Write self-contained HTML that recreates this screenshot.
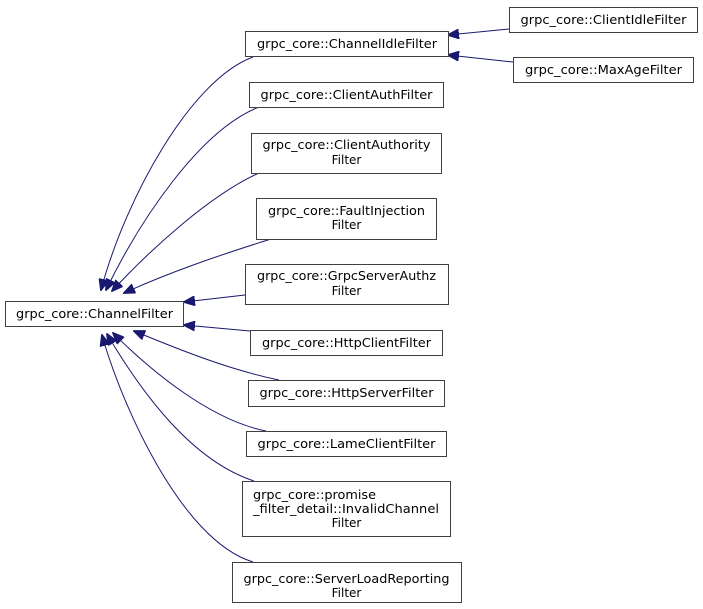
<!DOCTYPE html>
<html><head><meta charset="utf-8"><style>
html,body{margin:0;padding:0;background:#fff;}
svg{display:block;}
text{font-family:"DejaVu Sans","Liberation Sans",sans-serif;font-size:12px;fill:#000;}
</style></head><body>
<svg width="703" height="609" viewBox="0 0 703 609" xmlns="http://www.w3.org/2000/svg">
<defs>
<marker id="a" markerWidth="12" markerHeight="10" refX="11" refY="5" orient="auto" markerUnits="userSpaceOnUse">
<polygon points="0,0 12,5 0,10" fill="#191970" stroke="#191970"/>
</marker>
</defs>
<g fill="none" stroke="#191970" stroke-width="1" marker-end="url(#a)">
<path d="M253,57 C190,80 125,200 101,290"/>
<path d="M259,107 C200,130 140,220 106,290"/>
<path d="M259,173 C210,195 150,250 112,291"/>
<path d="M271,239 C220,255 170,272 124,293"/>
<path d="M245,295 L184,302"/>
<path d="M250,331 L184,325"/>
<path d="M279,380 C230,370 180,350 134,331"/>
<path d="M266,431 C210,420 150,370 113,333"/>
<path d="M254,481 C190,460 140,390 107,334"/>
<path d="M253,562 C180,540 120,400 102,335"/>
<path d="M509,29 L448,35"/>
<path d="M513,62 L448,55"/>
</g>
<g fill="#fff" stroke="#404040" stroke-width="1">
<rect x="5.5" y="301.5" width="178" height="25"/>
<rect x="245.5" y="31.5" width="203" height="25"/>
<rect x="249.5" y="82.5" width="194" height="25"/>
<rect x="251.5" y="133.5" width="190" height="40"/>
<rect x="256.5" y="198.5" width="180" height="41"/>
<rect x="245.5" y="264.5" width="203" height="40"/>
<rect x="250.5" y="330.5" width="192" height="25"/>
<rect x="248.5" y="380.5" width="196" height="26"/>
<rect x="246.5" y="431.5" width="200" height="25"/>
<rect x="242.5" y="481.5" width="208" height="55"/>
<rect x="232.5" y="562.5" width="229" height="40"/>
<rect x="509.5" y="7.5" width="188" height="25"/>
<rect x="513.5" y="57.5" width="180" height="25"/>
</g>
<g text-anchor="middle">
<text x="94.5" y="318" textLength="157" lengthAdjust="spacingAndGlyphs">grpc_core::ChannelFilter</text>
<text x="347" y="48" textLength="180" lengthAdjust="spacingAndGlyphs">grpc_core::ChannelIdleFilter</text>
<text x="346.5" y="99" textLength="172" lengthAdjust="spacingAndGlyphs">grpc_core::ClientAuthFilter</text>
<text x="346.5" y="149" textLength="168" lengthAdjust="spacingAndGlyphs">grpc_core::ClientAuthority</text>
<text x="346.5" y="164">Filter</text>
<text x="346.5" y="215" textLength="157" lengthAdjust="spacingAndGlyphs">grpc_core::FaultInjection</text>
<text x="346.5" y="229">Filter</text>
<text x="346.5" y="280" textLength="179" lengthAdjust="spacingAndGlyphs">grpc_core::GrpcServerAuthz</text>
<text x="346.5" y="295">Filter</text>
<text x="346.5" y="347" textLength="169" lengthAdjust="spacingAndGlyphs">grpc_core::HttpClientFilter</text>
<text x="346.5" y="397" textLength="174" lengthAdjust="spacingAndGlyphs">grpc_core::HttpServerFilter</text>
<text x="346.5" y="448" textLength="178" lengthAdjust="spacingAndGlyphs">grpc_core::LameClientFilter</text>
<text x="346.5" y="583" textLength="206" lengthAdjust="spacingAndGlyphs">grpc_core::ServerLoadReporting</text>
<text x="346.5" y="597">Filter</text>
<text x="603.5" y="24" textLength="166" lengthAdjust="spacingAndGlyphs">grpc_core::ClientIdleFilter</text>
<text x="603.5" y="74" textLength="157" lengthAdjust="spacingAndGlyphs">grpc_core::MaxAgeFilter</text>
</g>
<text x="253" y="499" textLength="123" lengthAdjust="spacingAndGlyphs">grpc_core::promise</text>
<text x="253" y="513" textLength="186" lengthAdjust="spacingAndGlyphs">_filter_detail::InvalidChannel</text>
<text x="346.5" y="527" text-anchor="middle">Filter</text>
</svg>
</body></html>
